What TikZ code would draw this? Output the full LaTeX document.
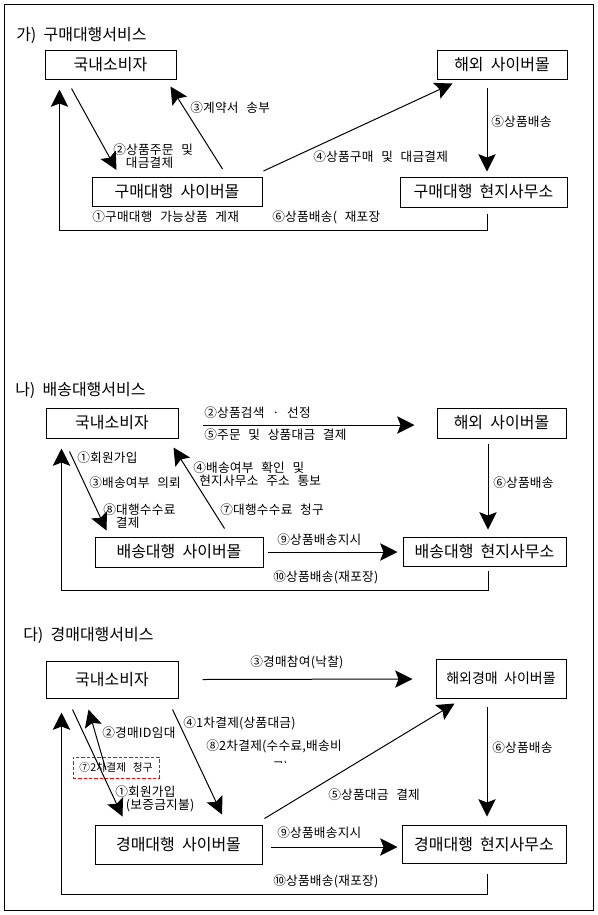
\documentclass[tikz,border=0pt]{standalone}
\usepackage{fontspec}
\setmainfont{Noto Sans CJK KR}[WordSpace=2]
\newfontfamily\lblfont{Noto Sans CJK KR}[WordSpace=2.5,LetterSpace=2]
\usetikzlibrary{arrows.meta}
\usetikzlibrary{calc}

\tikzset{
  box/.style={draw, line width=0.75pt, inner sep=0pt, font=\fontsize{12}{14}\selectfont},
  sz/.style 2 args={minimum width=#1*0.75pt, minimum height=#2*0.75pt},
  lbl/.style={anchor=west, inner sep=0pt, align=left, font=\lblfont\fontsize{9.5}{9.8}\selectfont},
  ttl/.style={anchor=west, inner sep=0pt, font=\fontsize{12}{14}\selectfont},
  arr/.style={line width=0.75pt, -{Stealth[length=13pt,width=13pt,inset=2.5pt]}},
}

\begin{document}
\begin{tikzpicture}[x=0.75pt,y=-0.75pt]
    \useasboundingbox (0,0) rectangle (598,915);
    \draw[line width=0.75pt] (4.5,4.5) rectangle (593,910);

    % 가) Nodes
    \node[ttl] (ttlA) at (16,35) {가) 구매대행서비스};
    \node[box, sz={131}{29}] (a1) at (110.5,64.5) {국내소비자};
    \node[box, sz={130}{29}] (a2) at (502,64.5) {해외 사이버몰};
    \node[box, sz={170}{29}] (a3) at (177,192) {구매대행 사이버몰};
    \node[box, sz={167}{30}] (a4) at (483.5,192) {구매대행 현지사무소};
    % 가) Edges
    \draw[arr] ($(a1.south west)+(27,9)$) -- ($(a3.north west)+(25,-7)$);
    \draw[arr] ($(a3.north west)+(131,-8)$) -- ($(a1.south east)+(-6,7)$);
    \draw[arr] ($(a3.north east)+(1,-6)$) -- ($(a2.south west)+(16,4)$);
    \draw[arr] ($(a2.south)+(-15,8)$) -- ($(a4.north)+(3.5,-5)$);
    \draw[arr] ($(a4.south)+(3.5,6)$) -- ++(0,17) -| ($(a1.south west)+(15,10)$);
    \node[lbl] at (113,156) {②상품주문 및\\\phantom{②}대금결제};
    \node[lbl] at (190,108) {③계약서 송부};
    \node[lbl] at (313,157) {④상품구매 및 대금결제};
    \node[lbl] at (491,122) {⑤상품배송};
    \node[lbl] at (92,217) {①구매대행 가능상품 게재};
    \node[lbl] at (272,217) {⑥상품배송( 재포장};

    % 나) Nodes
    \node[ttl] (ttlB) at (15,390) {나) 배송대행서비스};
    \node[box, sz={132}{30}] (b1) at (112,423) {국내소비자};
    \node[box, sz={129}{30}] (b2) at (501.5,423) {해외 사이버몰};
    \node[box, sz={168}{30}] (b3) at (179,552) {배송대행 사이버몰};
    \node[box, sz={163}{29}] (b4) at (484.5,551.5) {배송대행 현지사무소};
    % 나) Edges
    \draw[arr] ($(b1.east)+(24,2)$) -- ($(b2.west)+(-22,2)$);
    \draw[arr] ($(b1.south west)+(24,13)$) -- ($(b3.north west)+(12,-6)$);
    \draw[arr] ($(b3.north west)+(130,-8)$) -- ($(b1.south east)+(-5,9)$);
    \draw[arr] ($(b2.south)+(-13.5,5)$) -- ($(b4.north)+(3.5,-7)$);
    \draw[arr] ($(b3.east)+(4,0)$) -- ($(b4.west)+(-5,0.5)$);
    \draw[arr] ($(b4.south)+(3.5,4)$) -- ++(0,20) -| ($(b1.south west)+(16,10)$);
    \node[lbl] at (204,413) {②상품검색 · 선정};
    \node[lbl] at (204,435) {⑤주문 및 상품대금 결제};
    \node[lbl] at (77,458) {①회원가입};
    \node[lbl] at (89,483) {③배송여부 의뢰};
    \node[lbl] at (103,516) {⑧대행수수료\\\phantom{⑧}결제};
    \node[lbl] at (193,474) {④배송여부 확인 및\\\hspace*{4.5pt}현지사무소 주소 통보};
    \node[lbl] at (220,510) {⑦대행수수료 청구};
    \node[lbl] at (493,483) {⑥상품배송};
    \node[lbl] at (277,540) {⑨상품배송지시};
    \node[lbl] at (273,577) {⑩상품배송(재포장)};

    % 다) Nodes
    \node[ttl] (ttlC) at (23,635) {다) 경매대행서비스};
    \node[box, sz={132}{37}] (c1) at (112,679.5) {국내소비자};
    \node[box, sz={130}{39}, font=\fontsize{10.5}{12}\selectfont] (c2) at (501,678.5) {해외경매 사이버몰};
    \node[box, sz={167}{39}] (c3) at (178.5,844.5) {경매대행 사이버몰};
    \node[box, sz={164}{38}] (c4) at (484,844) {경매대행 현지사무소};
    \node[draw=red, dash pattern=on 2.5pt off 1.5pt, line width=0.6pt, inner sep=0pt, sz={86}{21},
          font=\lblfont\fontsize{8}{9}\selectfont] (c7l) at (116,767.5) {⑦2차결제 청구};
    \coordinate (c7) at (106,770);
    % 다) Edges
    \draw[arr] ($(c1.east)+(24,0)$) -- ($(c2.west)+(-23,0.5)$);
    \draw[arr] ($(c1.south west)+(27,11)$) -- ($(c3.north west)+(28,-8)$);
    \draw[arr] (c7) -- ($(c1.south west)+(43,11)$);
    \draw[arr] ($(c1.south east)+(-6,11)$) -- ($(c3.north)+(43.5,-10)$);
    \draw[arr] ($(c3.north east)+(2,-6)$) -- ($(c2.south west)+(19,5)$);
    \draw[arr] ($(c2.south)+(-14,8)$) -- ($(c4.north)+(3,-8)$);
    \draw[arr] ($(c3.east)+(8,2.5)$) -- ($(c4.west)+(-4,3)$);
    \draw[arr] ($(c4.south)+(3,10)$) -- ++(0,21) -| ($(c1.south west)+(16,14)$);
    \node[lbl] at (250,662) {③경매참여(낙찰)};
    \node[lbl] at (102,733) {②경매ID임대};
    \node[lbl] at (115,798.5) {①회원가입\\\hspace*{8pt}(보증금지불)};
    \node[lbl] at (183,723) {④1차결제(상품대금)};
    \node[lbl] at (206,746) {⑧2차결제(수수료,배송비};
    \begin{scope}
      \clip (265,757) rectangle (300,762.5);
      \node[lbl] at (272,768) {료)};
    \end{scope}
    \node[lbl] at (328,795) {⑤상품대금 결제};
    \node[lbl] at (277,833) {⑨상품배송지시};
    \node[lbl] at (273,881) {⑩상품배송(재포장)};
    \node[lbl] at (492,748) {⑥상품배송};
\end{tikzpicture}
\end{document}
